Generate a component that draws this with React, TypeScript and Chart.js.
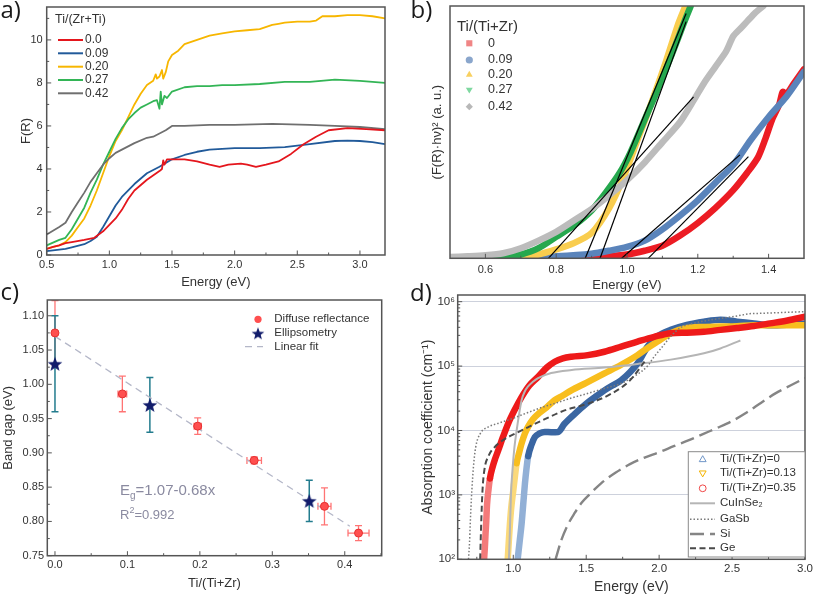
import React, { useEffect, useRef } from 'react';
import { Chart, registerables } from 'chart.js';

Chart.register(...registerables);

// ======================= DATA =======================
// ---- panel a : F(R) vs energy ----
const aLabels = ['0.0', '0.09', '0.20', '0.27', '0.42'];
const aE0 = [0.5, 0.55, 0.6, 0.65, 0.7, 0.8, 0.88, 0.95, 1.0, 1.05, 1.1, 1.15, 1.2, 1.3, 1.4, 1.42, 1.43, 1.44, 1.46, 1.5, 1.6, 1.7, 1.8, 1.88, 1.95, 2.05, 2.1, 2.17, 2.25, 2.35, 2.45, 2.55, 2.65, 2.75, 2.9, 3.05, 3.2];
const aF0 = [0.28, 0.38, 0.45, 0.55, 0.6, 0.7, 0.8, 1.1, 1.4, 1.7, 2.1, 2.6, 3.0, 3.5, 3.9, 4.0, 4.4, 4.2, 4.45, 4.45, 4.45, 4.35, 4.2, 4.1, 4.2, 4.25, 4.2, 4.1, 4.2, 4.35, 4.7, 5.15, 5.5, 5.8, 5.9, 5.85, 5.8];
const aE1 = [0.5, 0.6, 0.65, 0.7, 0.8, 0.85, 0.9, 0.95, 1.0, 1.05, 1.1, 1.2, 1.3, 1.4, 1.5, 1.6, 1.7, 1.8, 2.0, 2.2, 2.4, 2.6, 2.8, 2.9, 3.0, 3.1, 3.2];
const aF1 = [0.18, 0.25, 0.28, 0.35, 0.5, 0.65, 0.85, 1.3, 1.8, 2.3, 2.7, 3.3, 3.8, 4.1, 4.45, 4.65, 4.8, 4.9, 4.97, 4.97, 5.02, 5.15, 5.3, 5.32, 5.3, 5.25, 5.15];
const aE2 = [0.5, 0.6, 0.65, 0.7, 0.75, 0.8, 0.85, 0.9, 0.95, 1.0, 1.05, 1.1, 1.15, 1.2, 1.25, 1.3, 1.35, 1.37, 1.38, 1.4, 1.42, 1.43, 1.45, 1.47, 1.5, 1.55, 1.6, 1.7, 1.8, 1.9, 2.0, 2.1, 2.2, 2.3, 2.35, 2.4, 2.5, 2.6, 2.65, 2.7, 2.8, 2.9, 3.0, 3.1, 3.2];
const aF2 = [0.3, 0.45, 0.6, 0.9, 1.3, 1.7, 2.3, 3.0, 3.8, 4.6, 5.3, 5.8, 6.4, 7.0, 7.5, 7.9, 8.1, 8.4, 8.2, 8.3, 8.6, 8.2, 8.5, 9.0, 9.3, 9.5, 9.8, 10.0, 10.2, 10.3, 10.4, 10.45, 10.5, 10.7, 10.75, 10.8, 10.85, 10.85, 10.9, 11.1, 11.1, 11.15, 11.15, 11.1, 11.0];
const aE3 = [0.5, 0.6, 0.65, 0.7, 0.75, 0.8, 0.85, 0.9, 0.95, 1.0, 1.05, 1.1, 1.15, 1.2, 1.25, 1.3, 1.35, 1.38, 1.4, 1.41, 1.42, 1.44, 1.46, 1.5, 1.6, 1.7, 1.8, 1.9, 2.0, 2.2, 2.4, 2.6, 2.8, 3.0, 3.2];
const aF3 = [0.45, 0.7, 0.8, 1.2, 1.7, 2.2, 2.9, 3.5, 4.2, 4.8, 5.4, 5.9, 6.3, 6.6, 6.85, 7.0, 7.15, 7.2, 6.8, 7.6, 7.0, 7.4, 7.3, 7.6, 7.8, 7.85, 7.85, 7.9, 7.9, 7.95, 8.05, 8.05, 8.15, 8.1, 8.0];
const aE4 = [0.5, 0.6, 0.65, 0.7, 0.75, 0.8, 0.85, 0.9, 0.95, 1.0, 1.05, 1.1, 1.2, 1.3, 1.35, 1.4, 1.45, 1.5, 1.6, 1.8, 2.0, 2.3, 2.6, 2.8, 3.0, 3.2];
const aF4 = [0.95, 1.3, 1.5, 2.0, 2.45, 2.9, 3.4, 3.8, 4.2, 4.5, 4.75, 4.9, 5.2, 5.45, 5.5, 5.65, 5.8, 6.0, 6.0, 6.05, 6.05, 6.1, 6.05, 6.0, 5.95, 5.85];
const aXTicks = [0.5, 1.0, 1.5, 2.0, 2.5, 3.0];
const aXMinor = [0.75, 1.25, 1.75, 2.25, 2.75];
const aYTicks = [0, 2, 4, 6, 8, 10];
const aYMinor = [1, 3, 5, 7, 9, 11];

// ---- panel b : Tauc plot ----
const bLabels = ['0', '0.09', '0.20', '0.27', '0.42'];
const bE0 = [0.5, 0.8, 0.9, 0.95, 1.0, 1.05, 1.1, 1.15, 1.2, 1.25, 1.3, 1.34, 1.37, 1.39, 1.41, 1.43, 1.44, 1.45, 1.47, 1.5];
const bY0 = [0, 0, 0.3, 0.8, 1.5, 3, 5, 9, 14, 20, 27, 34, 40, 47, 55, 61, 66, 65, 69, 75];
const bE1 = [0.5, 0.7, 0.8, 0.9, 0.95, 1.0, 1.05, 1.1, 1.15, 1.2, 1.25, 1.3, 1.35, 1.4, 1.45, 1.5];
const bY1 = [0, 0.3, 0.8, 1.8, 3, 4.5, 7, 11.5, 17, 23, 30, 37, 47, 56, 64, 74];
const bE2 = [0.6, 0.7, 0.75, 0.8, 0.85, 0.9, 0.95, 0.99, 1.03, 1.07, 1.11, 1.145, 1.165];
const bY2 = [0, 0.5, 1.5, 3.5, 6, 10, 20, 32, 47, 62, 78, 93, 100];
const bE3 = [0.5, 0.6, 0.65, 0.7, 0.75, 0.8, 0.85, 0.9, 0.94, 0.98, 1.01, 1.05, 1.09, 1.13, 1.16, 1.18];
const bY3 = [0, 0, 0.3, 1.5, 4, 8.5, 13, 19, 26, 34, 42, 55, 68, 82, 93, 100];
const bE4 = [0.5, 0.55, 0.6, 0.65, 0.7, 0.75, 0.8, 0.85, 0.9, 0.95, 1.0, 1.05, 1.1, 1.15, 1.19, 1.22, 1.25, 1.28, 1.3, 1.32, 1.34, 1.36, 1.385];
const bY4 = [0.5, 0.8, 1.2, 2, 4, 7, 10.5, 15, 19.5, 25, 31, 38, 46, 54, 63, 70, 76, 82, 88, 91, 94, 97, 100];
const bFitE0 = [1.06, 1.343];
const bFitY0 = [0, 40.3];
const bFitE1 = [0.985, 1.319];
const bFitY1 = [0, 41];
const bFitE2 = [0.924, 1.167];
const bFitY2 = [0, 93.8];
const bFitE3 = [0.882, 1.167];
const bFitY3 = [0, 97];
const bFitE4 = [0.778, 1.188];
const bFitY4 = [0, 64];
const bXTicks = [0.6, 0.8, 1.0, 1.2, 1.4];
const bXMinor = [0.7, 0.9, 1.1, 1.3];

// ---- panel c : band gap ----
const cDiffX = [0.0, 0.093, 0.197, 0.275, 0.372, 0.419];
const cDiffY = [1.075, 0.986, 0.939, 0.889, 0.822, 0.783];
const cDiffYErr = [0.047, 0.026, 0.012, 0.005, 0.027, 0.011];
const cDiffXErr = [0, 0.006, 0.005, 0.01, 0.009, 0.0145];
const cEllX = [0.0, 0.131, 0.351];
const cEllY = [1.03, 0.97, 0.83];
const cEllYErr = [0.07, 0.04, 0.03];
const cFitX = [0.0, 0.407];
const cFitY = [1.07, 0.793];
const cXTicks = [0.0, 0.1, 0.2, 0.3, 0.4];
const cXMinor = [0.05, 0.15, 0.25, 0.35, 0.45];
const cYTicks = [0.75, 0.8, 0.85, 0.9, 0.95, 1.0, 1.05, 1.1];
const cYMinor = [0.775, 0.825, 0.875, 0.925, 0.975, 1.025, 1.075, 1.125];

// ---- panel d : absorption coefficient ----
const dBlueE = [1.03, 1.045, 1.057, 1.07, 1.08, 1.09, 1.102, 1.125, 1.148, 1.18, 1.216, 1.26, 1.307, 1.35, 1.42, 1.5, 1.56, 1.625, 1.68, 1.739, 1.8, 1.852, 1.92, 1.989, 2.08, 2.19, 2.307, 2.42, 2.534, 2.65, 2.76, 2.88, 3.0];
const dBlueA = [100, 200, 355, 800, 1500, 2500, 4000, 6000, 7900, 9000, 9500, 9400, 9500, 12600, 18000, 26000, 33000, 42000, 50000, 60000, 80000, 110000, 200000, 290000, 365000, 436000, 490000, 525000, 490000, 460000, 430000, 440000, 460000];
const dYelE = [0.962, 0.97, 0.977, 0.985, 1.0, 1.012, 1.023, 1.04, 1.057, 1.08, 1.102, 1.135, 1.17, 1.23, 1.284, 1.34, 1.398, 1.5, 1.625, 1.74, 1.852, 1.92, 1.989, 2.08, 2.19, 2.3, 2.42, 2.534, 2.65, 2.8, 3.0];
const dYelA = [100, 200, 355, 600, 1170, 2000, 3100, 4500, 6300, 9000, 11500, 15000, 18000, 23000, 29500, 35000, 42000, 55000, 77000, 105000, 148000, 190000, 240000, 324000, 390000, 405000, 410000, 415000, 430000, 430000, 430000];
const dRedE = [0.8, 0.805, 0.81, 0.815, 0.82, 0.83, 0.84, 0.86, 0.875, 0.898, 0.93, 0.966, 1.01, 1.057, 1.11, 1.17, 1.23, 1.284, 1.34, 1.398, 1.511, 1.625, 1.74, 1.852, 1.966, 2.08, 2.19, 2.307, 2.42, 2.534, 2.65, 2.76, 2.88, 3.0];
const dRedA = [100, 150, 250, 400, 700, 1200, 1800, 2800, 3600, 5000, 8000, 13000, 21000, 33000, 50000, 68000, 95000, 117000, 132000, 140000, 148000, 167000, 200000, 240000, 285000, 324000, 330000, 340000, 365000, 390000, 420000, 460000, 510000, 585000];
const dCisE = [0.97, 0.975, 0.984, 0.995, 1.008, 1.023, 1.04, 1.057, 1.078, 1.1, 1.135, 1.17, 1.26, 1.4, 1.625, 1.852, 2.08, 2.307, 2.42, 2.557];
const dCisA = [100, 200, 1000, 2500, 5500, 10000, 18000, 29500, 40000, 48000, 57000, 65000, 78000, 87000, 95000, 108000, 126000, 158000, 188000, 250000];
const dGasbE = [0.693, 0.7, 0.705, 0.71, 0.716, 0.727, 0.743, 0.773, 0.83, 0.9, 1.0, 1.1, 1.2, 1.3, 1.4, 1.5, 1.625, 1.75, 1.852, 1.92, 1.966, 2.03, 2.08, 2.15, 2.25, 2.42, 2.534, 2.62, 2.7, 2.85, 3.0];
const dGasbA = [100, 180, 355, 650, 1170, 2750, 5600, 8900, 11400, 13000, 15500, 19000, 23000, 27000, 32000, 37000, 45000, 55000, 75000, 100000, 140000, 210000, 290000, 400000, 470000, 550000, 600000, 650000, 660000, 680000, 700000];
const dSiE = [1.29, 1.33, 1.37, 1.42, 1.47, 1.52, 1.6, 1.7, 1.8, 1.9, 2.0, 2.1, 2.2, 2.3, 2.4, 2.5, 2.6, 2.7, 2.8, 2.9, 3.0];
const dSiA = [100, 200, 330, 520, 760, 1000, 1500, 2200, 3000, 3800, 4600, 5700, 7000, 8800, 11000, 14000, 19000, 27000, 38000, 50000, 65000];
const dGeE = [0.773, 0.78, 0.789, 0.802, 0.83, 0.875, 0.943, 1.011, 1.1, 1.216, 1.352, 1.51, 1.67, 1.8, 1.9];
const dGeA = [100, 355, 1170, 2450, 4000, 5600, 7400, 8900, 11200, 15000, 20500, 26000, 37000, 60000, 117000];
const dLabels = ['Ti/(Ti+Zr)=0', 'Ti/(Ti+Zr)=0.13', 'Ti/(Ti+Zr)=0.35', 'CuInSe₂', 'GaSb', 'Si', 'Ge'];
const dXTicks = [1.0, 1.5, 2.0, 2.5, 3.0];
const dXMinor = [0.75, 1.25, 1.75, 2.25, 2.75];
const dYTicks = [1e2, 1e3, 1e4, 1e5, 1e6];
const dYTickLabels = ['10²', '10³', '10⁴', '10⁵', '10⁶'];

// ======================= STYLE =======================
const PW = 813;
const PH = 597;
const FONT = "'Liberation Sans', Arial, Helvetica, sans-serif";
const TXT = '#333333';
const FRAME = '#555555';

const aColors = ['#e4161d', '#215a9a', '#f7b600', '#33b556', '#6f6f6f'];
const bBand = ['#ec1c24', '#5a84bb', '#f9cd4f', '#26a84e', '#bcbcbc'];
const bLegendColors = ['#f08585', '#8aa6cc', '#f8d060', '#7fd8a0', '#b8b8b8'];
const bMarkers = ['rect', 'circle', 'triangle', 'triangleDown', 'diamond'];

type Rect = { l: number; t: number; r: number; b: number; yW: number; xH: number };
const rectA: Rect = { l: 46.7, t: 7, r: 385, b: 255, yW: 27.8, xH: 34.8 };
const rectB: Rect = { l: 450, t: 6, r: 804, b: 258.3, yW: 20.8, xH: 34.5 };
const rectC: Rect = { l: 47.3, t: 300, r: 381.7, b: 555.7, yW: 47.1, xH: 35.4 };
const rectD: Rect = { l: 457.7, t: 295, r: 805, b: 559.3, yW: 38.1, xH: 36 };

const pts = (xs: number[], ys: number[]) => xs.map((x, i) => ({ x, y: ys[i] }));

function layout(r: Rect) {
  return { padding: { left: r.l - r.yW, top: r.t, right: PW - r.r, bottom: PH - r.b - r.xH } };
}

function xAxis(o: any) {
  return {
    type: o.type || 'linear',
    position: 'bottom',
    min: o.min,
    max: o.max,
    afterBuildTicks: (s: any) => { s.ticks = o.ticks.map((v: number) => ({ value: v })); },
    afterFit: (s: any) => { s.height = o.h; s.paddingLeft = 0; s.paddingRight = 0; },
    grid: { display: false, drawTicks: false },
    border: { display: false },
    ticks: {
      autoSkip: false, maxRotation: 0, minRotation: 0, padding: o.pad, color: TXT,
      font: { family: FONT, size: o.tickSize || 11 },
      callback: (v: any) => o.fmt(Number(v)),
    },
    title: { display: true, text: o.title, color: TXT, font: { family: FONT, size: o.titleSize || 13 }, padding: 0 },
  };
}

function yAxis(o: any) {
  return {
    type: o.type || 'linear',
    position: 'left',
    min: o.min,
    max: o.max,
    afterBuildTicks: (s: any) => { s.ticks = (o.ticks || []).map((v: number) => ({ value: v })); },
    afterFit: (s: any) => { s.width = o.w; s.paddingTop = 0; s.paddingBottom = 0; },
    grid: o.grid || { display: false, drawTicks: false },
    border: { display: false },
    ticks: {
      display: o.showTicks !== false,
      autoSkip: false, padding: o.pad || 4, color: TXT,
      font: { family: FONT, size: o.tickSize || 11 },
      callback: (v: any) => o.fmt(Number(v)),
    },
    title: { display: true, text: o.title, color: TXT, font: { family: FONT, size: o.titleSize || 13 }, padding: 0 },
  };
}

function framePlugin(c: { xMajor: number[]; xMinor: number[]; yMajor: number[]; yMinor: number[] }) {
  return {
    id: 'frameTicks',
    afterDatasetsDraw(chart: any) {
      const { ctx, chartArea: a } = chart;
      const xs = chart.scales.x;
      const ys = chart.scales.y;
      ctx.save();
      ctx.strokeStyle = FRAME;
      ctx.lineWidth = 1;
      ctx.beginPath();
      const tick = (vals: number[], len: number, horiz: boolean) => {
        vals.forEach((v) => {
          if (horiz) {
            const p = xs.getPixelForValue(v);
            if (p < a.left - 0.5 || p > a.right + 0.5) return;
            ctx.moveTo(p, a.bottom); ctx.lineTo(p, a.bottom - len);
          } else {
            const p = ys.getPixelForValue(v);
            if (p < a.top - 0.5 || p > a.bottom + 0.5) return;
            ctx.moveTo(a.left, p); ctx.lineTo(a.left + len, p);
          }
        });
      };
      tick(c.xMajor, 4.5, true);
      tick(c.xMinor, 2.5, true);
      tick(c.yMajor, 4.5, false);
      tick(c.yMinor, 2.5, false);
      ctx.stroke();
      ctx.lineWidth = 1.5;
      ctx.strokeRect(a.left, a.top, a.right - a.left, a.bottom - a.top);
      ctx.restore();
    },
  };
}

function drawMarker(ctx: CanvasRenderingContext2D, style: string, x: number, y: number, r: number, fill: string | null, stroke: string | null) {
  ctx.beginPath();
  if (style === 'circle') ctx.arc(x, y, r, 0, Math.PI * 2);
  else if (style === 'rect') ctx.rect(x - r * 0.85, y - r * 0.85, r * 1.7, r * 1.7);
  else if (style === 'triangle') { ctx.moveTo(x, y - r); ctx.lineTo(x + r * 0.95, y + r * 0.65); ctx.lineTo(x - r * 0.95, y + r * 0.65); ctx.closePath(); }
  else if (style === 'triangleDown') { ctx.moveTo(x, y + r); ctx.lineTo(x + r * 0.95, y - r * 0.65); ctx.lineTo(x - r * 0.95, y - r * 0.65); ctx.closePath(); }
  else if (style === 'diamond') { ctx.moveTo(x, y - r); ctx.lineTo(x + r, y); ctx.lineTo(x, y + r); ctx.lineTo(x - r, y); ctx.closePath(); }
  if (fill) { ctx.fillStyle = fill; ctx.fill(); }
  if (stroke) { ctx.strokeStyle = stroke; ctx.lineWidth = 1; ctx.stroke(); }
}

type LegItem = { label: string; kind: string; color?: string; width?: number; dash?: number[]; marker?: string; size?: number; fill?: string | null; img?: HTMLCanvasElement };
type LegCfg = { title?: string; titleSize?: number; titleX?: number; titleY?: number; size: number; rows: number[]; markX: number; line0: number; line1: number; textX: number; items: LegItem[]; box?: number[] };

function legendPlugin(cfg: LegCfg) {
  return {
    id: 'customLegend',
    afterDraw(chart: any) {
      const ctx: CanvasRenderingContext2D = chart.ctx;
      ctx.save();
      if (cfg.box) {
        const [x0, y0, x1, y1] = cfg.box;
        ctx.fillStyle = '#ffffff';
        ctx.fillRect(x0, y0, x1 - x0, y1 - y0);
        ctx.strokeStyle = '#8a8a8a';
        ctx.lineWidth = 1;
        ctx.strokeRect(x0, y0, x1 - x0, y1 - y0);
      }
      ctx.textBaseline = 'middle';
      ctx.textAlign = 'left';
      if (cfg.title) {
        ctx.fillStyle = TXT;
        ctx.font = `${cfg.titleSize}px ${FONT}`;
        ctx.fillText(cfg.title, cfg.titleX as number, cfg.titleY as number);
      }
      cfg.items.forEach((it, i) => {
        const y = cfg.rows[i];
        if (it.kind === 'line') {
          ctx.strokeStyle = it.color as string;
          ctx.lineWidth = it.width || 1.5;
          ctx.setLineDash(it.dash || []);
          ctx.beginPath();
          ctx.moveTo(cfg.line0, y);
          ctx.lineTo(cfg.line1, y);
          ctx.stroke();
          ctx.setLineDash([]);
        } else if (it.kind === 'marker') {
          drawMarker(ctx, it.marker as string, cfg.markX, y, it.size || 3.5, it.fill === undefined ? (it.color as string) : it.fill, it.fill === null ? (it.color as string) : null);
        } else if (it.kind === 'image' && it.img) {
          ctx.drawImage(it.img, cfg.markX - it.img.width / 2, y - it.img.height / 2);
        }
        ctx.fillStyle = TXT;
        ctx.font = `${cfg.size}px ${FONT}`;
        ctx.fillText(it.label, cfg.textX, y);
      });
      ctx.restore();
    },
  };
}

function makeStar(size: number, color: string) {
  const c = document.createElement('canvas');
  c.width = size;
  c.height = size;
  const g = c.getContext('2d') as CanvasRenderingContext2D;
  const cx = size / 2;
  const cy = size / 2 + size * 0.05;
  const R = size / 2 - 0.3;
  const r = R * 0.42;
  g.beginPath();
  for (let i = 0; i < 10; i++) {
    const ang = -Math.PI / 2 + (i * Math.PI) / 5;
    const rad = i % 2 === 0 ? R : r;
    g.lineTo(cx + rad * Math.cos(ang), cy + rad * Math.sin(ang));
  }
  g.closePath();
  g.fillStyle = color;
  g.fill();
  return c;
}

const baseOptions = (r: Rect) => ({
  responsive: false,
  animation: false as const,
  devicePixelRatio: 1,
  events: [] as any[],
  layout: layout(r),
  plugins: { legend: { display: false }, tooltip: { enabled: false } },
});

// ======================= CHARTS =======================
function chartA(canvas: HTMLCanvasElement) {
  const series = [[aE0, aF0], [aE1, aF1], [aE2, aF2], [aE3, aF3], [aE4, aF4]];
  const datasets = series.map(([e, f], i) => ({
    label: aLabels[i], data: pts(e, f), borderColor: aColors[i], borderWidth: 1.8,
    pointRadius: 0, tension: 0, clip: 0, borderJoinStyle: 'round',
  }));
  return new Chart(canvas, {
    type: 'line',
    data: { datasets: [datasets[0], datasets[1], datasets[4], datasets[3], datasets[2]] } as any,
    options: {
      ...baseOptions(rectA),
      scales: {
        x: xAxis({ min: 0.5, max: 3.2, ticks: aXTicks, fmt: (v: number) => v.toFixed(1), title: 'Energy (eV)', h: rectA.xH, pad: 3.4 }),
        y: yAxis({ min: 0, max: 11.53, ticks: aYTicks, fmt: (v: number) => String(v), title: 'F(R)', w: rectA.yW, pad: 4 }),
      },
    } as any,
    plugins: [
      framePlugin({ xMajor: aXTicks, xMinor: aXMinor, yMajor: aYTicks, yMinor: aYMinor }),
      legendPlugin({
        title: 'Ti/(Zr+Ti)', titleSize: 12.5, titleX: 55, titleY: 20, size: 12,
        rows: [40, 53.3, 66.7, 80, 93.3], markX: 0, line0: 58, line1: 83, textX: 85,
        items: aLabels.map((l, i) => ({ label: l, kind: 'line', color: aColors[i], width: 2 })),
      }),
    ] as any,
  });
}

function chartB(canvas: HTMLCanvasElement) {
  const bands = [[bE0, bY0], [bE1, bY1], [bE2, bY2], [bE3, bY3], [bE4, bY4]].map(([e, y], i) => ({
    label: bLabels[i], data: pts(e, y), borderColor: bBand[i], borderWidth: 6.5, pointRadius: 0,
    tension: 0.25, clip: 0, borderCapStyle: 'round', borderJoinStyle: 'round',
  }));
  const fits = [[bFitE0, bFitY0], [bFitE1, bFitY1], [bFitE2, bFitY2], [bFitE3, bFitY3], [bFitE4, bFitY4]].map(([e, y]) => ({
    data: pts(e, y), borderColor: '#000000', borderWidth: 1.2, pointRadius: 0, clip: 0,
  }));
  return new Chart(canvas, {
    type: 'line',
    data: { datasets: [...fits, bands[4], bands[3], bands[2], bands[1], bands[0]] } as any,
    options: {
      ...baseOptions(rectB),
      scales: {
        x: xAxis({ min: 0.5, max: 1.5, ticks: bXTicks, fmt: (v: number) => v.toFixed(1), title: 'Energy (eV)', h: rectB.xH, pad: 5 }),
        y: yAxis({ min: 0, max: 100, ticks: [], showTicks: false, fmt: () => '', title: '(F(R)·hν)² (a. u.)', w: rectB.yW }),
      },
    } as any,
    plugins: [
      framePlugin({ xMajor: bXTicks, xMinor: bXMinor, yMajor: [], yMinor: [] }),
      legendPlugin({
        title: 'Ti/(Ti+Zr)', titleSize: 15, titleX: 457, titleY: 27, size: 12.5,
        rows: [43.3, 60, 74.3, 90, 106.7], markX: 469.3, line0: 0, line1: 0, textX: 488,
        items: bLabels.map((l, i) => ({ label: l, kind: 'marker', marker: bMarkers[i], color: bLegendColors[i], size: 3.6 })),
      }),
    ] as any,
  });
}

function chartC(canvas: HTMLCanvasElement, star: HTMLCanvasElement, starSmall: HTMLCanvasElement) {
  const diffColor = '#ff4f4f';
  const diffErrColor = '#ff7474';
  const ellErrColor = '#237c8e';
  const fitColor = '#b4b7c8';
  const errPlugin = {
    id: 'errBars',
    beforeDatasetsDraw(chart: any) {
      const { ctx } = chart;
      const xs = chart.scales.x;
      const ys = chart.scales.y;
      const cap = 3.5;
      const draw = (X: number[], Y: number[], YE: number[], XE: number[] | null, color: string, w: number) => {
        ctx.save();
        ctx.strokeStyle = color;
        ctx.lineWidth = w;
        ctx.beginPath();
        X.forEach((x, i) => {
          const px = xs.getPixelForValue(x);
          const py = ys.getPixelForValue(Y[i]);
          const top = ys.getPixelForValue(Y[i] + YE[i]);
          const bot = ys.getPixelForValue(Y[i] - YE[i]);
          ctx.moveTo(px, top); ctx.lineTo(px, bot);
          ctx.moveTo(px - cap, top); ctx.lineTo(px + cap, top);
          ctx.moveTo(px - cap, bot); ctx.lineTo(px + cap, bot);
          if (XE && XE[i] > 0) {
            const l = xs.getPixelForValue(x - XE[i]);
            const r = xs.getPixelForValue(x + XE[i]);
            ctx.moveTo(l, py); ctx.lineTo(r, py);
            ctx.moveTo(l, py - cap); ctx.lineTo(l, py + cap);
            ctx.moveTo(r, py - cap); ctx.lineTo(r, py + cap);
          }
        });
        ctx.stroke();
        ctx.restore();
      };
      draw(cDiffX, cDiffY, cDiffYErr, cDiffXErr, diffErrColor, 1.3);
      draw(cEllX, cEllY, cEllYErr, null, ellErrColor, 1.5);
    },
  };
  const eqPlugin = {
    id: 'equation',
    afterDraw(chart: any) {
      const ctx: CanvasRenderingContext2D = chart.ctx;
      ctx.save();
      ctx.fillStyle = '#8a8aa0';
      ctx.textBaseline = 'alphabetic';
      ctx.textAlign = 'left';
      let x = 120;
      ctx.font = `15px ${FONT}`;
      ctx.fillText('E', x, 495);
      x += ctx.measureText('E').width;
      ctx.font = `10px ${FONT}`;
      ctx.fillText('g', x, 499);
      x += ctx.measureText('g').width;
      ctx.font = `15px ${FONT}`;
      ctx.fillText('=1.07-0.68x', x, 495);
      x = 120;
      ctx.font = `13px ${FONT}`;
      ctx.fillText('R', x, 518.5);
      x += ctx.measureText('R').width;
      ctx.font = `9px ${FONT}`;
      ctx.fillText('2', x, 513);
      x += ctx.measureText('2').width;
      ctx.font = `13px ${FONT}`;
      ctx.fillText('=0.992', x, 518.5);
      ctx.restore();
    },
  };
  return new Chart(canvas, {
    type: 'line',
    data: {
      datasets: [
        { label: 'Ellipsometry', data: pts(cEllX, cEllY), showLine: false, pointStyle: star, pointRadius: 7, clip: false },
        { label: 'Diffuse reflectance', data: pts(cDiffX, cDiffY), showLine: false, pointStyle: 'circle', pointRadius: 4, pointBackgroundColor: diffColor, pointBorderColor: '#e53030', pointBorderWidth: 1, clip: false },
        { label: 'Linear fit', data: pts(cFitX, cFitY), borderColor: fitColor, borderWidth: 1.3, borderDash: [7, 5], pointRadius: 0, clip: 0 },
      ],
    } as any,
    options: {
      ...baseOptions(rectC),
      scales: {
        x: xAxis({ min: -0.0106, max: 0.451, ticks: cXTicks, fmt: (v: number) => v.toFixed(1), title: 'Ti/(Ti+Zr)', h: rectC.xH, pad: 3 }),
        y: yAxis({ min: 0.75, max: 1.123, ticks: cYTicks, fmt: (v: number) => v.toFixed(2), title: 'Band gap (eV)', w: rectC.yW, pad: 3.3 }),
      },
    } as any,
    plugins: [
      errPlugin,
      framePlugin({ xMajor: cXTicks, xMinor: cXMinor, yMajor: cYTicks, yMinor: cYMinor }),
      eqPlugin,
      legendPlugin({
        size: 11.5, rows: [319.3, 333.3, 346.7], markX: 258, line0: 245, line1: 263, textX: 274.3,
        items: [
          { label: 'Diffuse reflectance', kind: 'marker', marker: 'circle', color: diffColor, size: 3.6 },
          { label: 'Ellipsometry', kind: 'image', img: starSmall },
          { label: 'Linear fit', kind: 'line', color: fitColor, width: 1.3, dash: [7, 5] },
        ],
      }),
    ] as any,
  });
}

function chartD(canvas: HTMLCanvasElement) {
  const blue = { band: '#3a66a2', light: '#92b0d6', pt: '#7096c8', edge: 6000 };
  const yel = { band: '#f8be1e', light: '#fbd97a', pt: '#f5b400', edge: 4000 };
  const red = { band: '#ee1a1a', light: '#f47a7a', pt: '#f04848', edge: 2000 };
  const cisColor = '#b5b5b5';
  const gasbColor = '#7a7a7a';
  const siColor = '#858585';
  const geColor = '#4a4a4a';
  const band = (lab: string, e: number[], a: number[], c: any) => ({
    label: lab, data: pts(e, a), borderColor: c.band, borderWidth: 6.5, pointRadius: 0,
    cubicInterpolationMode: 'monotone', clip: 0, borderJoinStyle: 'round', borderCapStyle: 'round',
    segment: { borderColor: (s: any) => (s.p1.parsed.y < c.edge ? c.light : undefined) },
  });
  const ref = (lab: string, e: number[], a: number[], color: string, w: number, dash: number[]) => ({
    label: lab, data: pts(e, a), borderColor: color, borderWidth: w, borderDash: dash, pointRadius: 0,
    cubicInterpolationMode: 'monotone', clip: 0,
  });
  return new Chart(canvas, {
    type: 'line',
    data: {
      datasets: [
        ref(dLabels[6], dGeE, dGeA, geColor, 2, [6, 3.5]),
        ref(dLabels[5], dSiE, dSiA, siColor, 2.4, [14, 6]),
        ref(dLabels[4], dGasbE, dGasbA, gasbColor, 1.5, [1.5, 2]),
        ref(dLabels[3], dCisE, dCisA, cisColor, 2, []),
        band(dLabels[2], dRedE, dRedA, red),
        band(dLabels[1], dYelE, dYelA, yel),
        band(dLabels[0], dBlueE, dBlueA, blue),
      ],
    } as any,
    options: {
      ...baseOptions(rectD),
      scales: {
        x: xAxis({ min: 0.619, max: 3.0, ticks: dXTicks, fmt: (v: number) => v.toFixed(1), title: 'Energy (eV)', h: rectD.xH, pad: 2.4, titleSize: 14, tickSize: 11.5 }),
        y: yAxis({
          type: 'logarithmic', min: 100, max: 1.27e6, ticks: dYTicks,
          fmt: (v: number) => dYTickLabels[dYTicks.findIndex((t) => Math.abs(Math.log10(t) - Math.log10(v)) < 1e-6)] || '',
          title: 'Absorption coefficient (cm⁻¹)', w: rectD.yW, pad: 2.7, titleSize: 14, tickSize: 11.5,
          grid: { display: true, drawTicks: false, color: '#cdd1dc', lineWidth: 1 },
        }),
      },
    } as any,
    plugins: [
      framePlugin({
        xMajor: dXTicks, xMinor: dXMinor, yMajor: dYTicks,
        yMinor: [1e2, 1e3, 1e4, 1e5].flatMap((d) => [2, 3, 4, 5, 6, 7, 8, 9].map((m) => m * d)),
      }),
      legendPlugin({
        box: [688.3, 451.7, 805, 557], size: 11.5,
        rows: [459.3, 473.3, 488.3, 503.3, 519.3, 534, 548.3], markX: 702.7, line0: 690, line1: 715, textX: 720,
        items: [
          { label: dLabels[0], kind: 'marker', marker: 'triangle', color: blue.pt, size: 3.6, fill: null },
          { label: dLabels[1], kind: 'marker', marker: 'triangleDown', color: yel.pt, size: 3.6, fill: null },
          { label: dLabels[2], kind: 'marker', marker: 'circle', color: red.pt, size: 3.4, fill: null },
          { label: dLabels[3], kind: 'line', color: cisColor, width: 2 },
          { label: dLabels[4], kind: 'line', color: gasbColor, width: 1.5, dash: [1.5, 2] },
          { label: dLabels[5], kind: 'line', color: siColor, width: 2.4, dash: [14, 6] },
          { label: dLabels[6], kind: 'line', color: geColor, width: 2, dash: [6, 3.5] },
        ],
      }),
    ] as any,
  });
}

// ======================= APP =======================
const panelLabel: React.CSSProperties = {
  position: 'absolute',
  fontFamily: "'Open Sans', 'Noto Sans', sans-serif",
  fontSize: 24,
  lineHeight: '24px',
  color: '#1a1a1a',
  margin: 0,
};

export default function App() {
  const ra = useRef<HTMLCanvasElement>(null);
  const rb = useRef<HTMLCanvasElement>(null);
  const rc = useRef<HTMLCanvasElement>(null);
  const rd = useRef<HTMLCanvasElement>(null);

  useEffect(() => {
    const star = makeStar(16, '#121c6b');
    const starSmall = makeStar(14, '#121c6b');
    const charts = [
      chartA(ra.current as HTMLCanvasElement),
      chartB(rb.current as HTMLCanvasElement),
      chartC(rc.current as HTMLCanvasElement, star, starSmall),
      chartD(rd.current as HTMLCanvasElement),
    ];
    return () => charts.forEach((c) => c.destroy());
  }, []);

  const cv: React.CSSProperties = { position: 'absolute', left: 0, top: 0, width: PW, height: PH };
  return (
    <div style={{ position: 'absolute', left: 0, top: 0, width: PW, height: PH, background: '#ffffff', overflow: 'hidden' }}>
      <canvas ref={ra} width={PW} height={PH} style={cv} />
      <canvas ref={rb} width={PW} height={PH} style={cv} />
      <canvas ref={rc} width={PW} height={PH} style={cv} />
      <canvas ref={rd} width={PW} height={PH} style={cv} />
      <div style={{ ...panelLabel, left: 0.5, top: -3 }}>a)</div>
      <div style={{ ...panelLabel, left: 410.5, top: -3 }}>b)</div>
      <div style={{ ...panelLabel, left: 0.5, top: 279 }}>c)</div>
      <div style={{ ...panelLabel, left: 410, top: 280 }}>d)</div>
    </div>
  );
}
